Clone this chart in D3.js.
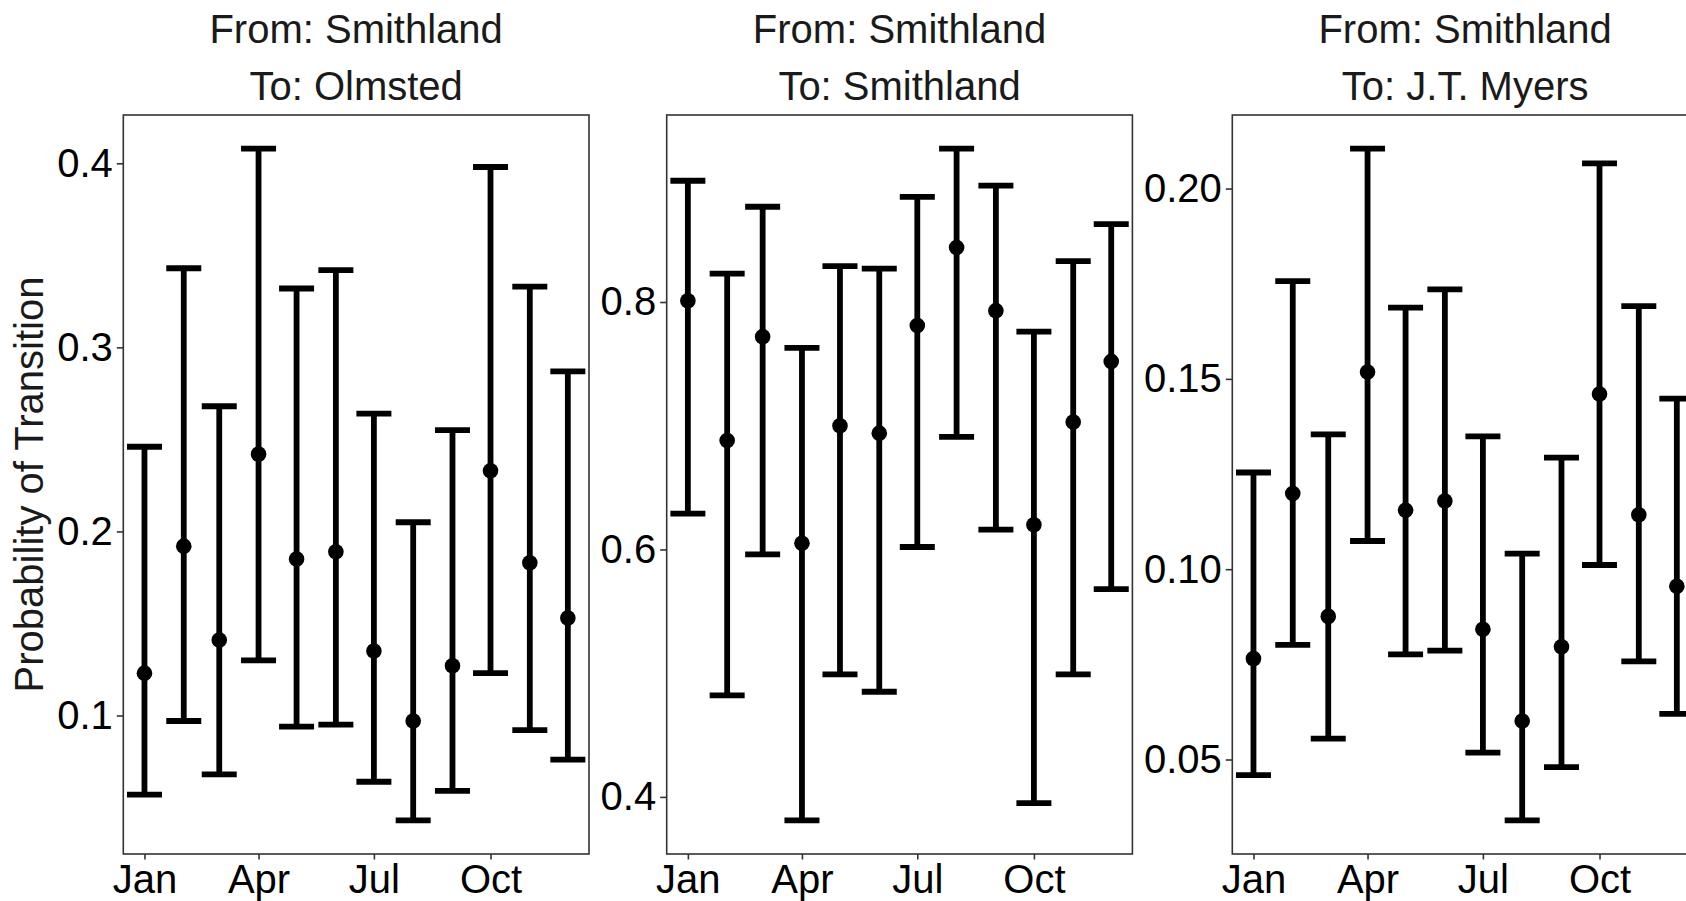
<!DOCTYPE html>
<html>
<head>
<meta charset="utf-8">
<script src="https://cdn.jsdelivr.net/npm/d3@7"></script>
<style>
  html, body { margin: 0; padding: 0; background: #ffffff; }
  svg { display: block; }
  text { font-family: "Liberation Sans", Arial, Helvetica, sans-serif; }
</style>
</head>
<body>
<svg id="chart" width="1686" height="901"></svg>
<script>
// Monthly transition probabilities out of Smithland, with confidence limits
const months = ["Jan", "Feb", "Mar", "Apr", "May", "Jun", "Jul", "Aug", "Sep", "Oct", "Nov", "Dec"];

const titlesFrom = ["From: Smithland", "From: Smithland", "From: Smithland"];
const titlesTo = ["To: Olmsted", "To: Smithland", "To: J.T. Myers"];

// To: Olmsted
const olmstedEst   = [0.123, 0.192, 0.141, 0.242, 0.185, 0.189, 0.135, 0.097, 0.127, 0.233, 0.183, 0.153];
const olmstedLower = [0.057, 0.097, 0.068, 0.130, 0.094, 0.095, 0.064, 0.043, 0.059, 0.123, 0.092, 0.076];
const olmstedUpper = [0.246, 0.343, 0.268, 0.408, 0.332, 0.342, 0.264, 0.205, 0.255, 0.398, 0.333, 0.287];
const olmstedTicks = [0.1, 0.2, 0.3, 0.4];

// To: Smithland (staying put)
const smithlandEst   = [0.801, 0.688, 0.772, 0.605, 0.700, 0.694, 0.781, 0.844, 0.793, 0.620, 0.703, 0.752];
const smithlandLower = [0.629, 0.482, 0.596, 0.381, 0.499, 0.485, 0.602, 0.691, 0.616, 0.395, 0.499, 0.568];
const smithlandUpper = [0.898, 0.823, 0.877, 0.763, 0.829, 0.827, 0.885, 0.924, 0.894, 0.776, 0.833, 0.863];
const smithlandTicks = [0.4, 0.6, 0.8];

// To: J.T. Myers
const myersEst   = [0.0765, 0.1199, 0.0876, 0.1518, 0.1155, 0.1179, 0.0842, 0.0601, 0.0796, 0.1460, 0.1143, 0.0955];
const myersLower = [0.0459, 0.0801, 0.0555, 0.1074, 0.0776, 0.0786, 0.0518, 0.0340, 0.0480, 0.1011, 0.0758, 0.0620];
const myersUpper = [0.1254, 0.1757, 0.1354, 0.2105, 0.1687, 0.1735, 0.1349, 0.1041, 0.1293, 0.2066, 0.1691, 0.1448];
const myersTicks = [0.05, 0.10, 0.15, 0.20];

const yTitle = "Probability of Transition";

const panels = [
  { from: titlesFrom[0], to: titlesTo[0], est: olmstedEst, lo: olmstedLower, hi: olmstedUpper, ticks: olmstedTicks, fmt: ".1f", left: 123.3 },
  { from: titlesFrom[1], to: titlesTo[1], est: smithlandEst, lo: smithlandLower, hi: smithlandUpper, ticks: smithlandTicks, fmt: ".1f", left: 666.7 },
  { from: titlesFrom[2], to: titlesTo[2], est: myersEst, lo: myersLower, hi: myersUpper, ticks: myersTicks, fmt: ".2f", left: 1232.3 }
];

// Layout
const panelW = 465.7;
const panelTop = 115, panelBottom = 854;
const panelH = panelBottom - panelTop;
const fontPx = 40;
const capW = 35;
const lineW = 5.8;
const pointR = 7.8;

const svg = d3.select("#chart");
svg.append("rect").attr("width", 1686).attr("height", 901).attr("fill", "#ffffff");

// Month dates (first of each month) for a time axis
const monthDates = months.map((m, i) => new Date(2019, i, 1));
const tMin = monthDates[0].getTime(), tMax = monthDates[monthDates.length - 1].getTime();
const tPad = (tMax - tMin) * 0.05;

panels.forEach((p) => {
  const g = svg.append("g").attr("transform", `translate(${p.left},${panelTop})`);

  const x = d3.scaleTime()
    .domain([new Date(tMin - tPad), new Date(tMax + tPad)])
    .range([0, panelW]);

  const yMin = d3.min(p.lo), yMax = d3.max(p.hi);
  const yPad = (yMax - yMin) * 0.05;
  const y = d3.scaleLinear()
    .domain([yMin - yPad, yMax + yPad])
    .range([panelH, 0]);

  const rows = months.map((m, i) => ({ date: monthDates[i], est: p.est[i], lo: p.lo[i], hi: p.hi[i] }));

  // Error bars
  const bars = g.append("g");
  bars.selectAll("line.stem").data(rows).join("line")
    .attr("class", "stem")
    .attr("x1", d => x(d.date)).attr("x2", d => x(d.date))
    .attr("y1", d => y(d.lo)).attr("y2", d => y(d.hi))
    .attr("stroke", "#000").attr("stroke-width", lineW);
  bars.selectAll("line.capHi").data(rows).join("line")
    .attr("class", "capHi")
    .attr("x1", d => x(d.date) - capW / 2).attr("x2", d => x(d.date) + capW / 2)
    .attr("y1", d => y(d.hi)).attr("y2", d => y(d.hi))
    .attr("stroke", "#000").attr("stroke-width", lineW);
  bars.selectAll("line.capLo").data(rows).join("line")
    .attr("class", "capLo")
    .attr("x1", d => x(d.date) - capW / 2).attr("x2", d => x(d.date) + capW / 2)
    .attr("y1", d => y(d.lo)).attr("y2", d => y(d.lo))
    .attr("stroke", "#000").attr("stroke-width", lineW);

  // Point estimates
  g.append("g").selectAll("circle").data(rows).join("circle")
    .attr("cx", d => x(d.date)).attr("cy", d => y(d.est))
    .attr("r", pointR).attr("fill", "#000");

  // Panel border
  g.append("rect")
    .attr("x", 0).attr("y", 0).attr("width", panelW).attr("height", panelH)
    .attr("fill", "none").attr("stroke", "#333333").attr("stroke-width", 1.6);

  // Y axis
  const yAxis = g.append("g")
    .call(d3.axisLeft(y).tickValues(p.ticks).tickFormat(d3.format(p.fmt)).tickSize(6.5).tickPadding(4));
  yAxis.select(".domain").remove();
  yAxis.selectAll(".tick line").attr("stroke", "#333333").attr("stroke-width", 1.6);
  yAxis.selectAll(".tick text").attr("fill", "#000").style("font-size", fontPx + "px")
    .style("font-family", '"Liberation Sans", Arial, sans-serif');

  // X axis
  const xAxis = g.append("g").attr("transform", `translate(0,${panelH})`)
    .call(d3.axisBottom(x).ticks(d3.timeMonth.every(3)).tickFormat(d3.timeFormat("%b")).tickSize(5.5).tickPadding(5.5));
  xAxis.select(".domain").remove();
  xAxis.selectAll(".tick line").attr("stroke", "#333333").attr("stroke-width", 1.6);
  xAxis.selectAll(".tick text").attr("fill", "#000").style("font-size", fontPx + "px")
    .style("font-family", '"Liberation Sans", Arial, sans-serif');

  // Two-line title
  const cx = p.left + panelW / 2;
  svg.append("text")
    .attr("x", cx).attr("y", 43.3)
    .attr("text-anchor", "middle").attr("fill", "#1a1a1a")
    .style("font-size", fontPx + "px").text(p.from);
  svg.append("text")
    .attr("x", cx).attr("y", 100)
    .attr("text-anchor", "middle").attr("fill", "#1a1a1a")
    .style("font-size", fontPx + "px").text(p.to);
});

// Y axis title
svg.append("text")
  .attr("transform", `translate(43,${panelTop + panelH / 2}) rotate(-90)`)
  .attr("text-anchor", "middle").attr("fill", "#1a1a1a")
  .style("font-size", fontPx + "px").text(yTitle);
</script>
</body>
</html>
